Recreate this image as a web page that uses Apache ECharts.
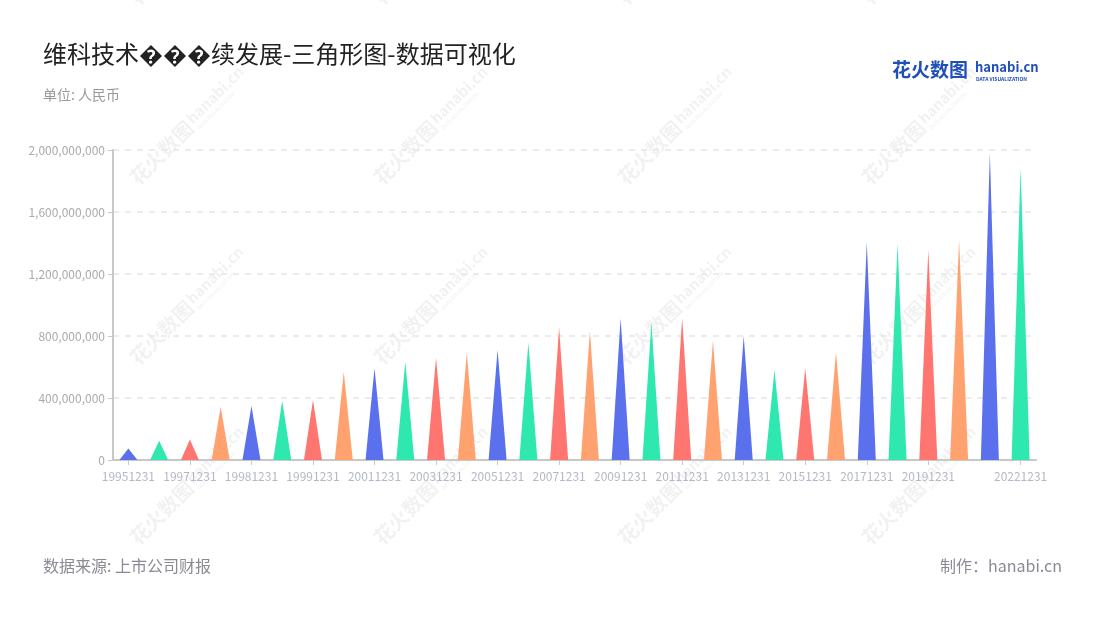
<!DOCTYPE html>
<html>
<head>
<meta charset="utf-8">
<script src="https://cdn.jsdelivr.net/npm/echarts@6/dist/echarts.min.js"></script>
<style>html,body{margin:0;padding:0;background:#fff;}#c{width:1100px;height:620px;}</style>
</head>
<body>
<div id="c"></div>
<script>
const categories = ['19951231','19961231','19971231','19980630','19981231','19990630','19991231','20001231','20011231','20021231',
  '20031231','20041231','20051231','20061231','20071231','20081231','20091231','20101231','20111231','20121231',
  '20131231','20141231','20151231','20161231','20171231','20181231','20191231','20201231','20211231','20221231'];
const values = [75e6,125e6,133e6,344e6,348e6,383e6,387e6,570e6,592e6,634e6,
  660e6,692e6,710e6,757e6,856e6,832e6,914e6,886e6,918e6,770e6,
  800e6,581e6,592e6,699e6,1405e6,1394e6,1355e6,1419e6,1979e6,1886e6];
const yTicks = [0,400e6,800e6,1200e6,1600e6,2000e6];
const palette = ['#5a70ec','#2ee8b0','#ff7570','#ffa270'];

const FONT = '"Noto Sans CJK SC","Noto Sans",sans-serif';
const chart = echarts.init(document.getElementById('c'), null, {renderer:'canvas'});

function showLabel(i){ return (i % 2 === 0 && i <= 26) || i === categories.length - 1; }

const WM = 'rgba(0,0,0,0.055)';
const watermarks = [];
const wx = [184,428,672,916], wy = [-50,130,310,490];
wy.forEach(y => wx.forEach(x => {
  watermarks.push({
    type:'group', x:x, y:y, rotation: Math.PI/4, silent:true, z:-10,
    children:[
      {type:'text', style:{text:'花火数图', x:-72, y:0, fill:WM, font:'bold 20px '+FONT, textVerticalAlign:'middle'}},
      {type:'text', style:{text:'hanabi.cn', x:10, y:-3, fill:WM, font:'bold 15px '+FONT, textVerticalAlign:'middle'}},
      {type:'text', style:{text:'DATA VISUALIZATION', x:11, y:9, fill:WM, font:'bold 5px '+FONT, textVerticalAlign:'middle'}}
    ]
  });
}));

const option = {
  backgroundColor:'#fff',
  animation:false,
  grid:{left:113, right:64, top:150, bottom:160, containLabel:false},
  xAxis:{
    type:'category', data:categories,
    axisLine:{lineStyle:{color:'#c8c8c8', width:2}},
    axisTick:{show:true, alignWithLabel:true, interval:(i)=>showLabel(i), lineStyle:{color:'#c8c8c8'}},
    axisLabel:{interval:(i)=>showLabel(i), color:'#b3b8c8', fontSize:12, fontFamily:FONT, margin:10}
  },
  yAxis:{
    type:'value', min:0, max:2000e6, interval:400e6,
    axisLine:{show:true, lineStyle:{color:'#c8c8c8', width:2}},
    axisTick:{show:true, lineStyle:{color:'#c8c8c8'}},
    splitLine:{lineStyle:{color:'#e6e6e6', type:[6,6], width:1.5}},
    axisLabel:{color:'#aaaaaa', fontSize:12, fontFamily:FONT, margin:8,
      formatter:(v)=>v.toLocaleString('en-US')}
  },
  series:[{
    type:'pictorialBar',
    symbol:'triangle',
    symbolSize:[18,'100%'],
    barCategoryGap:'0%',
    data:values.map((v,i)=>({value:v, itemStyle:{color:palette[i%palette.length]}})),
    z:5
  }],
  graphic:[
    ...watermarks,
    {type:'text', left:43, top:42, style:{text:'维科技术\uFFFD\uFFFD\uFFFD续发展-三角形图-数据可视化', font:'24px '+FONT, fill:'#222'}},
    {type:'text', left:43, top:88, style:{text:'单位: 人民币', font:'14px '+FONT, fill:'#999'}},
    {type:'text', left:43, top:558, style:{text:'数据来源: 上市公司财报', font:'16px '+FONT, fill:'#8a8a96'}},
    {type:'text', right:38, top:558, style:{text:'制作：hanabi.cn', font:'16px '+FONT, fill:'#8a8a96'}},
    {type:'text', left:892, top:60, style:{text:'花火数图', font:'bold 19px '+FONT, fill:'#1f4fb8'}},
    {type:'text', left:975, top:61, style:{text:'hanabi.cn', font:'bold 13px '+FONT, fill:'#1f4fb8'}},
    {type:'text', left:976, top:77, style:{text:'DATA VISUALIZATION', font:'bold 5px '+FONT, fill:'#1f4fb8'}}
  ]
};
chart.setOption(option);
</script>
</body>
</html>
